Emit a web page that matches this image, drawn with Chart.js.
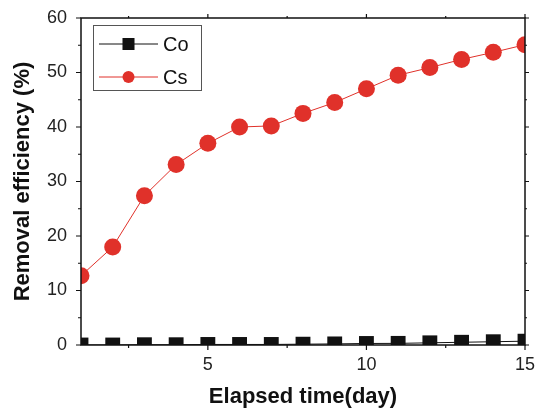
<!DOCTYPE html>
<html>
<head>
<meta charset="utf-8">
<script src="https://cdn.jsdelivr.net/npm/chart.js@4.4.0/dist/chart.umd.min.js"></script>
<style>
    html, body { margin: 0; padding: 0; background: #fff; }
    #wrap { width: 538px; height: 410px; }
</style>
</head>
<body>
<div id="wrap"><canvas id="chart" width="538" height="410"></canvas></div>
<script>
// data
const days = [1, 2, 3, 4, 5, 6, 7, 8, 9, 10, 11, 12, 13, 14, 15];
const coValues = [0, 0, 0.05, 0.05, 0.1, 0.1, 0.1, 0.15, 0.2, 0.28, 0.3, 0.4, 0.5, 0.6, 0.7];
const csValues = [12.7, 18.0, 27.4, 33.1, 37.0, 40.0, 40.2, 42.5, 44.5, 47.0, 49.5, 50.9, 52.4, 53.7, 55.1];
const xMajorTicks = [5, 10, 15];
const xMinorTicks = [2.5, 7.5, 12.5];
const yMajorTicks = [0, 10, 20, 30, 40, 50, 60];
const yMinorTicks = [5, 15, 25, 35, 45, 55];

const FONT = '"Liberation Sans", Arial, sans-serif';
const RED = '#e0312a';

const toPoints = (values) => days.map((d, i) => ({ x: d, y: values[i] }));

// frame + tick marks drawn from the scales
const framePlugin = {
    id: 'frame',
    afterDraw(chart) {
        const { ctx, chartArea: a, scales: { x, y } } = chart;
        ctx.save();
        ctx.strokeStyle = '#111';
        ctx.lineWidth = 1.5;
        ctx.strokeRect(a.left, a.top, a.right - a.left, a.bottom - a.top);

        ctx.lineWidth = 1.2;
        ctx.beginPath();
        xMajorTicks.forEach(v => {
            const px = x.getPixelForValue(v);
            ctx.moveTo(px, a.bottom); ctx.lineTo(px, a.bottom + 5);
            ctx.moveTo(px, a.top); ctx.lineTo(px, a.top - 4);
        });
        xMinorTicks.forEach(v => {
            const px = x.getPixelForValue(v);
            ctx.moveTo(px, a.bottom); ctx.lineTo(px, a.bottom + 3);
            ctx.moveTo(px, a.top); ctx.lineTo(px, a.top - 2);
        });
        yMajorTicks.forEach(v => {
            const py = y.getPixelForValue(v);
            ctx.moveTo(a.left, py); ctx.lineTo(a.left - 5, py);
            ctx.moveTo(a.right, py); ctx.lineTo(a.right + 4, py);
        });
        yMinorTicks.forEach(v => {
            const py = y.getPixelForValue(v);
            ctx.moveTo(a.left, py); ctx.lineTo(a.left - 3, py);
            ctx.moveTo(a.right, py); ctx.lineTo(a.right + 2, py);
        });
        ctx.stroke();
        ctx.restore();
    }
};

// boxed legend with line + marker samples
const legendPlugin = {
    id: 'boxLegend',
    afterDraw(chart) {
        const { ctx } = chart;
        const left = 93.5, top = 25.5, width = 108, height = 65;
        ctx.save();
        ctx.strokeStyle = '#555';
        ctx.lineWidth = 1;
        ctx.strokeRect(left, top, width, height);

        const rows = [44, 77];
        chart.data.datasets.forEach((ds, i) => {
            const yy = rows[i];
            ctx.strokeStyle = ds.borderColor;
            ctx.lineWidth = 1;
            ctx.beginPath();
            ctx.moveTo(99, yy);
            ctx.lineTo(158, yy);
            ctx.stroke();
            ctx.fillStyle = ds.pointBackgroundColor;
            ctx.strokeStyle = ds.pointBorderColor;
            Chart.helpers.drawPoint(ctx, {
                pointStyle: ds.pointStyle,
                radius: ds.legendRadius,
                borderWidth: 0,
                rotation: 0
            }, 128.5, yy);
            ctx.fillStyle = '#111';
            ctx.font = '20px ' + FONT;
            ctx.textBaseline = 'middle';
            ctx.fillText(ds.label, 163, yy + 1);
        });
        ctx.restore();
    }
};

// let layout.padding alone decide the plot edges
const noLabelPadding = (scale) => {
    scale.paddingLeft = 0;
    scale.paddingRight = 0;
    scale.paddingTop = 0;
    scale.paddingBottom = 0;
};

new Chart(document.getElementById('chart').getContext('2d'), {
    type: 'line',
    data: {
        datasets: [{
            label: 'Co',
            data: toPoints(coValues),
            borderColor: '#111',
            borderWidth: 1,
            pointStyle: 'rect',
            pointRadius: 10.5,
            legendRadius: 8.5,
            pointBackgroundColor: '#111',
            pointBorderColor: '#111',
            pointBorderWidth: 0,
            clip: 0
        }, {
            label: 'Cs',
            data: toPoints(csValues),
            borderColor: RED,
            borderWidth: 1,
            pointStyle: 'circle',
            pointRadius: 8.5,
            legendRadius: 6,
            pointBackgroundColor: RED,
            pointBorderColor: RED,
            pointBorderWidth: 0,
            clip: 0
        }]
    },
    options: {
        responsive: false,
        animation: false,
        layout: { padding: { top: 18, right: 13, left: 0, bottom: 0 } },
        plugins: {
            legend: { display: false },
            tooltip: { enabled: false }
        },
        scales: {
            x: {
                type: 'linear',
                min: 1,
                max: 15,
                afterBuildTicks: (scale) => { scale.ticks = xMajorTicks.map(v => ({ value: v })); },
                afterFit: (scale) => { scale.height = 65; noLabelPadding(scale); },
                grid: { display: false, drawTicks: false },
                border: { display: false },
                ticks: {
                    color: '#222',
                    padding: 9,
                    maxRotation: 0,
                    font: { family: FONT, size: 18 }
                },
                title: {
                    display: true,
                    text: 'Elapsed time(day)',
                    color: '#111',
                    padding: { top: 2, bottom: 0 },
                    font: { family: FONT, size: 22, weight: 'bold' }
                }
            },
            y: {
                min: 0,
                max: 60,
                afterBuildTicks: (scale) => { scale.ticks = yMajorTicks.map(v => ({ value: v })); },
                afterFit: (scale) => { scale.width = 81; noLabelPadding(scale); },
                grid: { display: false, drawTicks: false },
                border: { display: false },
                ticks: {
                    color: '#222',
                    padding: 14,
                    font: { family: FONT, size: 18 }
                },
                title: {
                    display: true,
                    text: 'Removal efficiency (%)',
                    color: '#111',
                    padding: { top: 10, bottom: 0 },
                    font: { family: FONT, size: 22, weight: 'bold' }
                }
            }
        }
    },
    plugins: [framePlugin, legendPlugin]
});
</script>
</body>
</html>
